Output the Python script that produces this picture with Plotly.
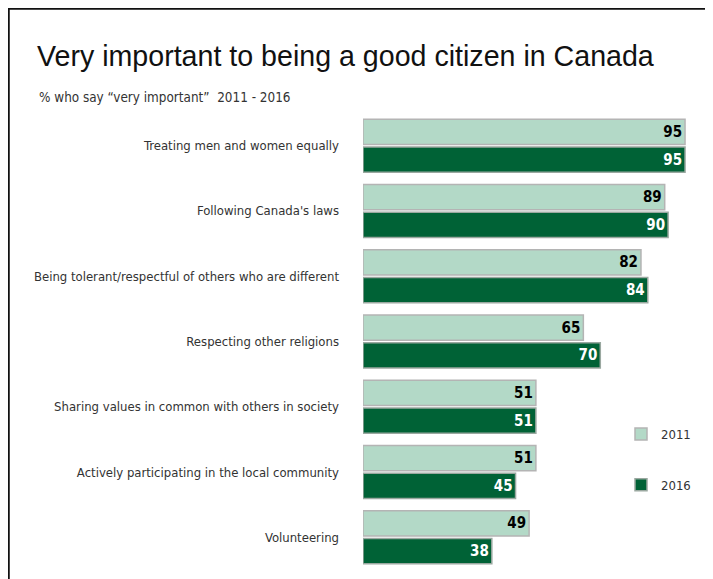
import plotly.graph_objects as go

categories = [
    "Treating men and women equally",
    "Following Canada's laws",
    "Being tolerant/respectful of others who are different",
    "Respecting other religions",
    "Sharing values in common with others in society",
    "Actively participating in the local community",
    "Volunteering",
]
values_2011 = [95, 89, 82, 65, 51, 51, 49]
values_2016 = [95, 90, 84, 70, 51, 45, 38]
series_names = ["2011", "2016"]

NARROW = "DejaVu Sans Condensed, Liberation Sans Narrow, sans-serif"

fig = go.Figure()
fig.add_trace(go.Bar(
    y=categories, x=values_2011, name=series_names[0], orientation="h",
    marker=dict(color="#b3d9c7", line=dict(color="#b4b4b4", width=1.5)),
    text=values_2011, texttemplate="<b>%{text}</b>", textposition="inside",
    insidetextanchor="end", textangle=0,
    textfont=dict(family=NARROW, size=15, color="#000000"),
    legendgroup="a", hoverinfo="skip",
))
fig.add_trace(go.Bar(
    y=categories, x=values_2016, name=series_names[1], orientation="h",
    marker=dict(color="#006236", line=dict(color="#9aa8a0", width=1.5)),
    text=values_2016, texttemplate="<b>%{text}</b>", textposition="inside",
    insidetextanchor="end", textangle=0,
    textfont=dict(family=NARROW, size=15, color="#ffffff"),
    legendgroup="b", hoverinfo="skip",
))

# page body has an 8px margin; figure fills the rest of the window
OFF = 8
W, H = 713 - OFF, 579 - OFF
L, R, T, B = 363 - OFF, 11, 113 - OFF, 9
pw, ph = W - L - R, H - T - B

def px_x(x):  # x in screenshot pixels
    return (x - OFF - L) / pw

def px_y(y):  # y in screenshot pixels
    return (H - B - (y - OFF)) / ph

fig.update_layout(
    width=W, height=H,
    margin=dict(l=L, r=R, t=T, b=B, autoexpand=False),
    paper_bgcolor="white", plot_bgcolor="white",
    barmode="group", bargap=0.15, bargroupgap=0.09,
    title=dict(
        text="Very important to being a good citizen in Canada",
        font=dict(family="Liberation Sans, Arial, sans-serif", size=28.6, color="#111111"),
        xref="container", x=(37 - OFF) / W, xanchor="left",
        yref="container", y=1 - (56 - OFF) / H, yanchor="middle",
    ),
    xaxis=dict(range=[0, 100], visible=False, fixedrange=True, automargin=False),
    yaxis=dict(
        autorange="reversed", showgrid=False, zeroline=False, showline=False,
        ticks="", ticklabelstandoff=23, automargin=False,
        tickfont=dict(family=NARROW, size=13, color="#333333"),
    ),
    legend=dict(
        x=px_x(621), y=px_y(419), xanchor="left", yanchor="top",
        font=dict(family=NARROW, size=13, color="#333333"),
        tracegroupgap=31, bgcolor="rgba(0,0,0,0)",
    ),
    showlegend=True,
    annotations=[dict(
        text="% who say “very important”  2011 - 2016",
        xref="paper", yref="paper", x=px_x(37), y=px_y(97),
        xanchor="left", yanchor="middle", showarrow=False,
        font=dict(family=NARROW, size=13.4, color="#333333"),
    )],
    shapes=[dict(
        type="rect", xref="paper", yref="paper",
        x0=px_x(8.5), x1=px_x(760), y0=px_y(640), y1=px_y(8.5),
        line=dict(color="#111111", width=2.5), fillcolor="rgba(0,0,0,0)",
        layer="above",
    )],
)

fig.write_html("out.html")
